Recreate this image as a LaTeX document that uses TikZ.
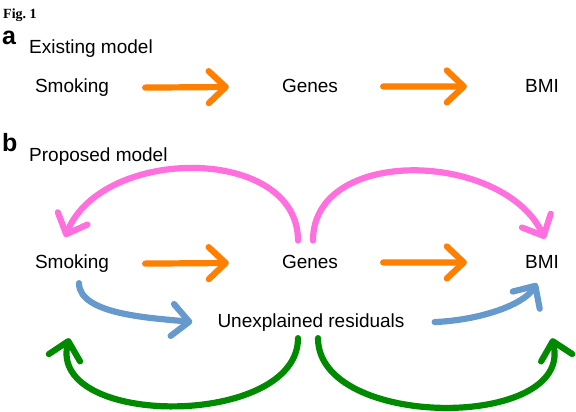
\documentclass[tikz,border=0pt]{standalone}
\usepackage{fontspec}
\setmainfont{Liberation Sans}
\newfontfamily\figfont{Liberation Serif}
\usetikzlibrary{arrows.meta}
\definecolor{orangearr}{RGB}{255,128,0}
\definecolor{pinkarr}{RGB}{255,112,222}
\definecolor{bluearr}{RGB}{102,153,204}
\definecolor{greenarr}{RGB}{0,138,0}
\tikzset{
  label/.style={inner sep=0pt, anchor=base, font=\fontsize{19}{22}\selectfont},
  panel/.style={inner sep=0pt, anchor=base west, font=\fontsize{25}{27}\selectfont\bfseries},
  arr/.style={line width=6.2pt, line cap=round, -{Straight Barb[length=17pt, width=32pt, round]}},
}

\begin{document}
\begin{tikzpicture}[x=1pt, y=1pt]
\useasboundingbox (0,0) rectangle (576,412);

\node[inner sep=0pt, anchor=base west, font=\figfont\fontsize{14}{16}\selectfont\bfseries] (fig) at (3,393) {Fig.~1};
\node[panel] (a) at (2,367) {a};
\node[panel] (b) at (2,260) {b};
\node[label, anchor=base west] (existing) at (29,358) {Existing model};
\node[label, anchor=base west] (proposed) at (29,250) {Proposed model};

% panel a
\begin{scope}[every node/.style={label}]
    \node(smokingA) at (72,319) {Smoking};
    \node(genesA) at (310,319) {Genes};
    \node(bmiA) at (542,319) {BMI};
\end{scope}

% panel b
\begin{scope}[every node/.style={label}]
    \node(smokingB) at (72,143) {Smoking};
    \node(genesB) at (310,143) {Genes};
    \node(bmiB) at (542,143) {BMI};
    \node(resid) at (311,84) {Unexplained residuals};
\end{scope}

\path[arr, draw=orangearr, shorten <=36pt, shorten >=53pt] (smokingA) -- (genesA);
\path[arr, draw=orangearr, shorten <=45pt, shorten >=58pt] (genesA) -- (bmiA);
\path[arr, draw=orangearr, shorten <=36pt, shorten >=53pt] (smokingB) -- (genesB);
\path[arr, draw=orangearr, shorten <=45pt, shorten >=58pt] (genesB) -- (bmiB);

% genes back to smoking and on to bmi
\draw[arr, pinkarr] ([shift={(-12,15)}]genesB.north) .. controls +(0,95) and +(38,92) .. ([shift={(-7,18)}]smokingB.north);
\draw[arr, pinkarr] ([shift={(3,15)}]genesB.north) .. controls +(0,95) and +(-42,88) .. ([shift={(3,17)}]bmiB.north);

% residuals
\draw[arr, bluearr] ([shift={(7,-10)}]smokingB.south) .. controls +(0,-32) and +(-38,4) .. ([shift={(-25,1)}]resid.west);
\draw[arr, bluearr] ([shift={(30,1)}]resid.east) .. controls +(45,2) and +(-14,-22) .. ([shift={(-5,-14)}]bmiB.south);
\draw[arr, greenarr] ([shift={(-13,-6)}]resid.south) .. controls +(0,-90) and +(-21,-90) .. ([shift={(-3,-65)}]smokingB.south);
\draw[arr, greenarr] ([shift={(7,-6)}]resid.south) .. controls +(0,-92) and +(22,-92) .. ([shift={(10,-69)}]bmiB.south);

\end{tikzpicture}
\end{document}
